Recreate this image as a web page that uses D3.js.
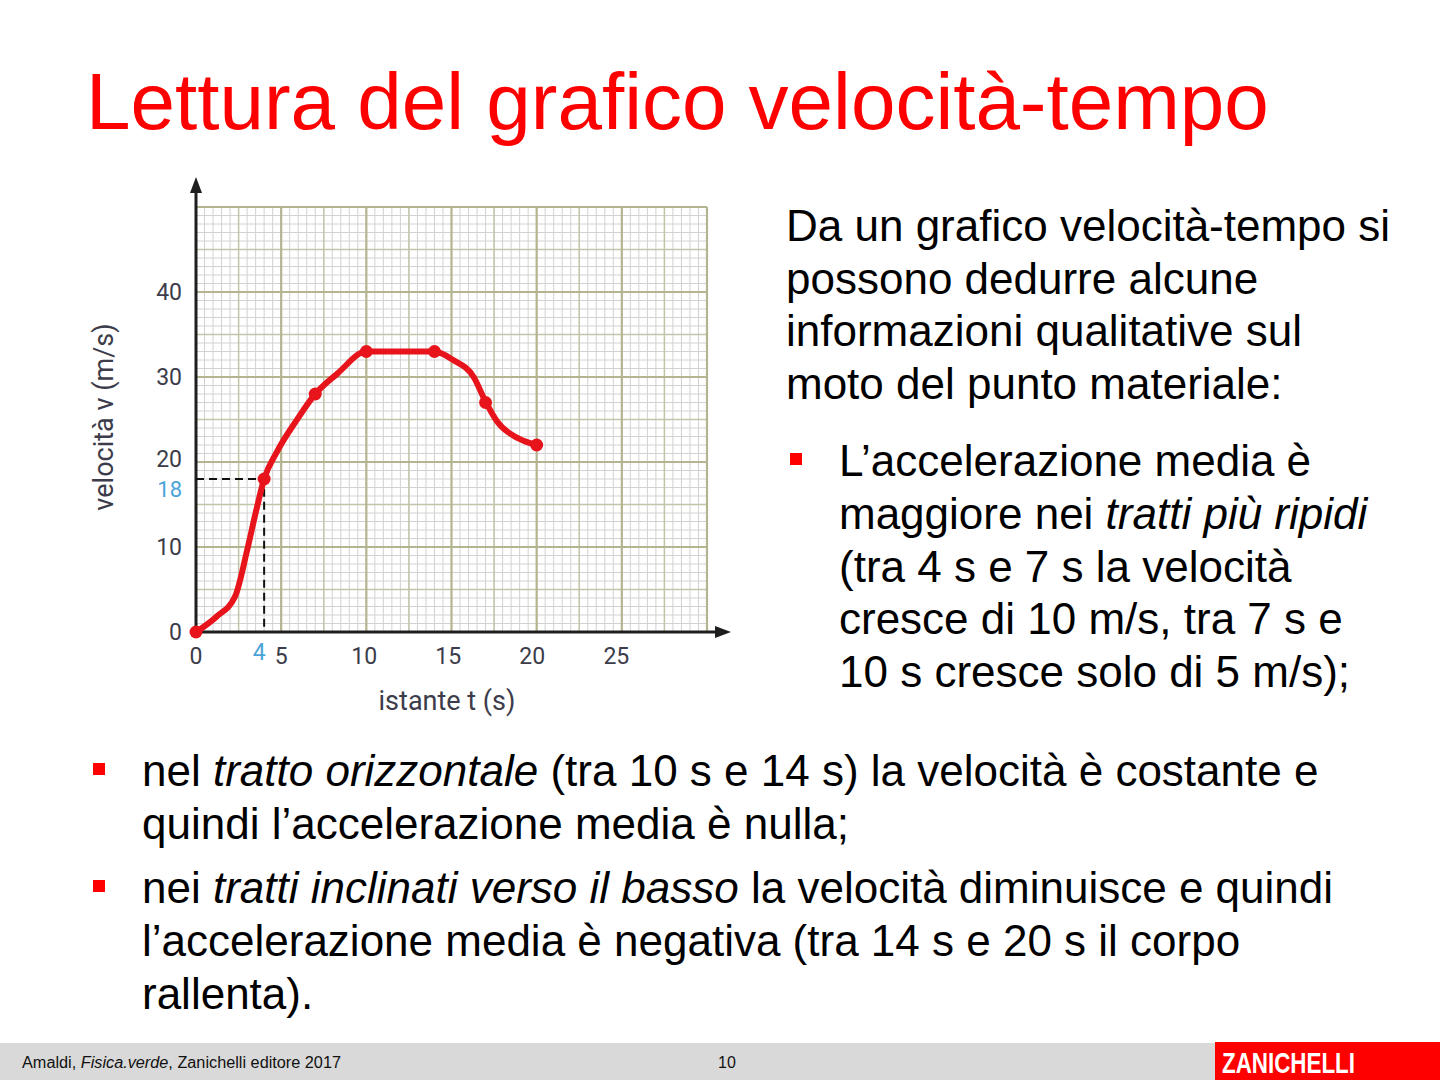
<!DOCTYPE html>
<html>
<head>
<meta charset="utf-8">
<script src="https://cdn.jsdelivr.net/npm/d3@7"></script>
<style>
  html, body { margin: 0; padding: 0; background: #fff; }
  svg { display: block; }
</style>
</head>
<body>
<div id="slide"></div>
<script>
// Curve (time in s, velocity in m/s)
var curveT = [0, 1.2, 2.3, 3, 3.5, 4, 4.75, 5.9, 7, 8.3, 10, 12, 14, 15.1, 16.3, 17, 17.7, 18.9, 20];
var curveV = [0, 1.8, 4.2, 9.6, 14, 18, 21.2, 24.9, 28, 30.4, 33, 33, 33, 32, 30, 27.1, 24.7, 22.8, 22];

// Dots drawn on the curve
var markerT = [0, 4, 7, 10, 14, 17, 20];
var markerV = [0, 18, 28, 33, 33, 27, 22];

// Axis ticks
var xTicks = [0, 5, 10, 15, 20, 25];
var yTicks = [0, 10, 20, 30, 40];

// Highlighted reading
var readT = 4, readV = 18;

var title = "Lettura del grafico velocità-tempo";
var footerText = "Amaldi, Fisica.verde, Zanichelli editore 2017";
var pageNumber = "10";

var svg = d3.select("#slide")
            .append("svg")
            .attr("width", 1440)
            .attr("height", 1080);

var red = "#ff0000";
var textFont = "'Liberation Sans', Arial, sans-serif";
var chartFont = "Roboto, 'DejaVu Sans', sans-serif";

// Title
svg.append("text")
   .attr("x", 86)
   .attr("y", 129)
   .attr("fill", red)
   .style("font-family", textFont)
   .style("font-size", "80px")
   .text(title);

// ---------- chart ----------
var x = d3.scaleLinear().domain([0, 30]).range([196, 707]);
var y = d3.scaleLinear().domain([0, 50]).range([632, 207]);

var grid = svg.append("g");

// fine grid (0.5 s, 1 m/s)
grid.selectAll("line.fx")
    .data(d3.range(0, 30.01, 0.5))
    .enter().append("line")
    .attr("x1", function(d) { return x(d); })
    .attr("x2", function(d) { return x(d); })
    .attr("y1", y(0)).attr("y2", y(50))
    .attr("stroke", "#d2d2d2").attr("stroke-width", 1);
grid.selectAll("line.fy")
    .data(d3.range(0, 50.01, 1))
    .enter().append("line")
    .attr("y1", function(d) { return y(d); })
    .attr("y2", function(d) { return y(d); })
    .attr("x1", x(0)).attr("x2", x(30))
    .attr("stroke", "#d2d2d2").attr("stroke-width", 1);

// medium grid (2.5 s, 5 m/s)
grid.selectAll("line.mx")
    .data(d3.range(2.5, 30, 5))
    .enter().append("line")
    .attr("x1", function(d) { return x(d); })
    .attr("x2", function(d) { return x(d); })
    .attr("y1", y(0)).attr("y2", y(50))
    .attr("stroke", "#c4c4aa").attr("stroke-width", 1.5);
grid.selectAll("line.my")
    .data(d3.range(5, 50, 10))
    .enter().append("line")
    .attr("y1", function(d) { return y(d); })
    .attr("y2", function(d) { return y(d); })
    .attr("x1", x(0)).attr("x2", x(30))
    .attr("stroke", "#c4c4aa").attr("stroke-width", 1.5);

// major grid (5 s, 10 m/s)
grid.selectAll("line.Mx")
    .data(d3.range(5, 30.01, 5))
    .enter().append("line")
    .attr("x1", function(d) { return x(d); })
    .attr("x2", function(d) { return x(d); })
    .attr("y1", y(0)).attr("y2", y(50))
    .attr("stroke", "#b4b490").attr("stroke-width", 2.2);
grid.selectAll("line.My")
    .data(d3.range(10, 50.01, 10))
    .enter().append("line")
    .attr("y1", function(d) { return y(d); })
    .attr("y2", function(d) { return y(d); })
    .attr("x1", x(0)).attr("x2", x(30))
    .attr("stroke", "#b4b490").attr("stroke-width", 2.2);

// axes with arrows
var axisColor = "#1e1e1e";
svg.append("line")
   .attr("x1", x(0)).attr("x2", x(0))
   .attr("y1", y(0) + 2).attr("y2", 190)
   .attr("stroke", axisColor).attr("stroke-width", 3);
svg.append("path")
   .attr("d", "M" + x(0) + ",177 L" + (x(0) - 6) + ",193 L" + (x(0) + 6) + ",193 Z")
   .attr("fill", axisColor);
svg.append("line")
   .attr("x1", x(0) - 2).attr("x2", 718)
   .attr("y1", y(0)).attr("y2", y(0))
   .attr("stroke", axisColor).attr("stroke-width", 3);
svg.append("path")
   .attr("d", "M731," + y(0) + " L715," + (y(0) - 6) + " L715," + (y(0) + 6) + " Z")
   .attr("fill", axisColor);

// tick labels
var labelColor = "#3c3c4a";
svg.selectAll("text.yt")
   .data(yTicks)
   .enter().append("text")
   .attr("x", 182)
   .attr("y", function(d) { return y(d) + (d === 20 ? -3 : 0); })
   .attr("dy", "0.36em")
   .attr("text-anchor", "end")
   .attr("fill", labelColor)
   .style("font-family", chartFont)
   .style("font-size", "23px")
   .text(function(d) { return d; });
svg.selectAll("text.xt")
   .data(xTicks)
   .enter().append("text")
   .attr("x", function(d) { return x(d) - (d > 5 ? d * 0.22 : 0); })
   .attr("y", y(0) + 32)
   .attr("text-anchor", "middle")
   .attr("fill", labelColor)
   .style("font-family", chartFont)
   .style("font-size", "23px")
   .text(function(d) { return d; });

// highlighted values in blue
svg.append("text")
   .attr("x", 182).attr("y", y(readV) + 18)
   .attr("text-anchor", "end")
   .attr("fill", "#4aa3d9")
   .style("font-family", chartFont)
   .style("font-size", "22px")
   .text(readV);
svg.append("text")
   .attr("x", x(readT) - 5).attr("y", y(0) + 28)
   .attr("text-anchor", "middle")
   .attr("fill", "#4aa3d9")
   .style("font-family", chartFont)
   .style("font-size", "23px")
   .text(readT);

// dashed reading lines
svg.append("path")
   .attr("d", "M" + x(0) + "," + y(readV) + " H" + x(readT) + " V" + y(0))
   .attr("fill", "none")
   .attr("stroke", "#111")
   .attr("stroke-width", 2)
   .attr("stroke-dasharray", "8,5");

// axis titles
svg.append("text")
   .attr("transform", "translate(113,417) rotate(-90)")
   .attr("text-anchor", "middle")
   .attr("fill", labelColor)
   .style("font-family", chartFont)
   .style("font-size", "27px")
   .text("velocità v (m/s)");
svg.append("text")
   .attr("x", 447).attr("y", 710)
   .attr("text-anchor", "middle")
   .attr("fill", labelColor)
   .style("font-family", chartFont)
   .style("font-size", "27px")
   .text("istante t (s)");

// velocity curve
var lineRed = "#e8141c";
var pts = curveT.map(function(t, i) { return [t, curveV[i]]; });
svg.append("path")
   .datum(pts)
   .attr("fill", "none")
   .attr("stroke", lineRed)
   .attr("stroke-width", 6)
   .attr("stroke-linejoin", "round")
   .attr("stroke-linecap", "round")
   .attr("d", d3.line()
                .curve(d3.curveMonotoneX)
                .x(function(d) { return x(d[0]); })
                .y(function(d) { return y(d[1]); }));

svg.selectAll("circle.dot")
   .data(markerT)
   .enter().append("circle")
   .attr("cx", function(d) { return x(d); })
   .attr("cy", function(d, i) { return y(markerV[i]); })
   .attr("r", 6.5)
   .attr("fill", lineRed);

// ---------- text blocks ----------
function addLine(xPos, yPos, parts) {
    var t = svg.append("text")
               .attr("x", xPos).attr("y", yPos)
               .attr("fill", "#000")
               .style("font-family", textFont)
               .style("font-size", "44px");
    parts.forEach(function(p) {
        t.append("tspan")
         .style("font-style", p[1] ? "italic" : "normal")
         .text(p[0]);
    });
}
function bullet(xPos, yCenter) {
    svg.append("rect")
       .attr("x", xPos).attr("y", yCenter - 6)
       .attr("width", 12).attr("height", 12)
       .attr("fill", red);
}

addLine(786, 241, [["Da un grafico velocità-tempo si"]]);
addLine(786, 294, [["possono dedurre alcune"]]);
addLine(786, 346, [["informazioni qualitative sul"]]);
addLine(786, 399, [["moto del punto materiale:"]]);

bullet(790, 459);
addLine(839, 476, [["L’accelerazione media è"]]);
addLine(839, 529, [["maggiore nei "], ["tratti più ripidi", true]]);
addLine(839, 582, [["(tra 4 s e 7 s la velocità"]]);
addLine(839, 634, [["cresce di 10 m/s, tra 7 s e"]]);
addLine(839, 687, [["10 s cresce solo di 5 m/s);"]]);

bullet(93, 769);
addLine(142, 786, [["nel "], ["tratto orizzontale", true], [" (tra 10 s e 14 s) la velocità è costante e"]]);
addLine(142, 839, [["quindi l’accelerazione media è nulla;"]]);

bullet(93, 886);
addLine(142, 903, [["nei "], ["tratti inclinati verso il basso", true], [" la velocità diminuisce e quindi"]]);
addLine(142, 956, [["l’accelerazione media è negativa (tra 14 s e 20 s il corpo"]]);
addLine(142, 1009, [["rallenta)."]]);

// ---------- footer ----------
svg.append("rect")
   .attr("x", 0).attr("y", 1043)
   .attr("width", 1440).attr("height", 37)
   .attr("fill", "#d9d9d9");
svg.append("rect")
   .attr("x", 1215).attr("y", 1042)
   .attr("width", 225).attr("height", 38)
   .attr("fill", red);

var footer = svg.append("text")
   .attr("x", 22).attr("y", 1068)
   .attr("textLength", 319)
   .attr("lengthAdjust", "spacingAndGlyphs")
   .attr("fill", "#111")
   .style("font-family", textFont)
   .style("font-size", "16px");
footer.append("tspan").text("Amaldi, ");
footer.append("tspan").style("font-style", "italic").text("Fisica.verde");
footer.append("tspan").text(",  Zanichelli editore 2017");

svg.append("text")
   .attr("x", 727).attr("y", 1068)
   .attr("text-anchor", "middle")
   .attr("fill", "#111")
   .style("font-family", textFont)
   .style("font-size", "16px")
   .text(pageNumber);

svg.append("text")
   .attr("x", 1222).attr("y", 1073)
   .attr("textLength", 133)
   .attr("lengthAdjust", "spacingAndGlyphs")
   .attr("fill", "#fff")
   .style("font-family", textFont)
   .style("font-weight", "bold")
   .style("font-size", "30px")
   .text("ZANICHELLI");
</script>
</body>
</html>
